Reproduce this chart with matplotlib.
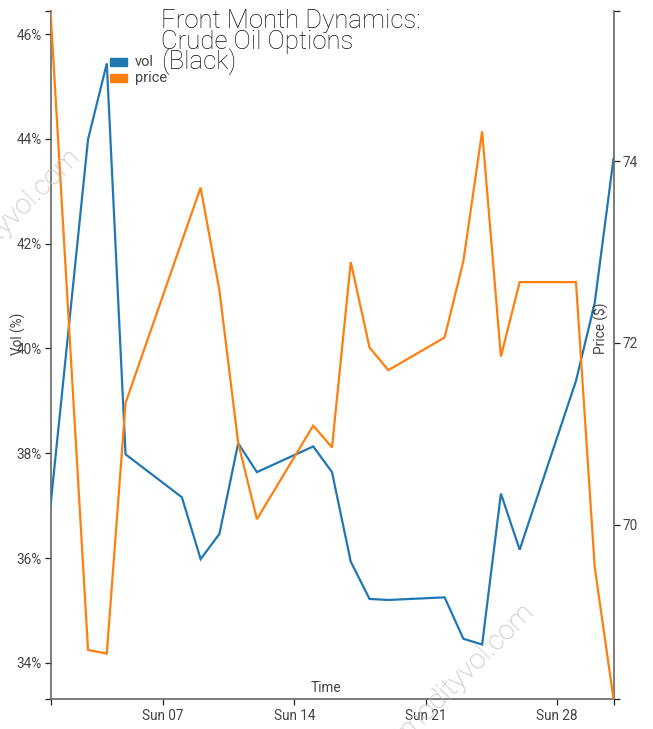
import matplotlib
matplotlib.use("Agg")
import matplotlib.pyplot as plt
import matplotlib.dates as mdates
from matplotlib.patches import Rectangle
import numpy as np
import pandas as pd

# ---- data ----
dates = ["2024-01-01", "2024-01-03", "2024-01-04", "2024-01-05", "2024-01-08",
         "2024-01-09", "2024-01-10", "2024-01-11", "2024-01-12", "2024-01-15",
         "2024-01-16", "2024-01-17", "2024-01-18", "2024-01-19", "2024-01-22",
         "2024-01-23", "2024-01-24", "2024-01-25", "2024-01-26", "2024-01-29",
         "2024-01-30", "2024-01-31"]
vol = [37.00, 43.99, 45.44, 37.98, 37.16, 35.98, 36.46, 38.19, 37.64, 38.13,
       37.64, 35.93, 35.22, 35.20, 35.25, 34.46, 34.35, 37.23, 36.16, 39.38,
       40.87, 43.62]
price = [75.66, 68.62, 68.58, 71.34, 73.12, 73.71, 72.58, 70.90, 70.06, 71.09,
         70.85, 72.89, 71.95, 71.70, 72.06, 72.90, 74.33, 71.85, 72.67, 72.67,
         69.53, 68.08]
vol_ticks = [34, 36, 38, 40, 42, 44, 46]
price_ticks = [70, 72, 74]
x_ticks = ["2024-01-07", "2024-01-14", "2024-01-21", "2024-01-28"]
vol_range = [33.31, 46.45]
title_lines = ["Front Month Dynamics:", "Crude Oil Options", "(Black)"]
series_names = ["vol", "price"]
watermark = "commodityvol.com"

BLUE = "#1f77b4"
ORANGE = "#ff7f0e"
AXC = "#666666"
TXC = "#444444"
FONT = "Roboto"

W, H = 653, 729
fig = plt.figure(figsize=(W / 100, H / 100), dpi=100)
plt.rcParams["font.family"] = [FONT, "DejaVu Sans"]

def px(x, y):
    return x / W, 1 - y / H

L, R, T, B = 50.5, 613.5, 10.5, 699
ax = fig.add_axes([L / W, 1 - B / H, (R - L) / W, (B - T) / H])
ax2 = ax.twinx()

d = pd.to_datetime(dates)
ax.plot(d, vol, color=BLUE, lw=1.6, solid_joinstyle="miter", zorder=3)
ax2.plot(d, price, color=ORANGE, lw=1.6, solid_joinstyle="miter", zorder=3)

ax.set_xlim(d.min(), d.max())
ax.set_ylim(*vol_range)
ax2.set_ylim(min(price), max(price))

for a in (ax, ax2):
    a.patch.set_visible(False)
    a.spines["top"].set_visible(False)
    for s in ("left", "right", "bottom"):
        a.spines[s].set_color(AXC)
        a.spines[s].set_linewidth(1.2)
ax.spines["right"].set_visible(False)
ax2.spines["left"].set_visible(False)
ax2.spines["bottom"].set_visible(False)

xt = pd.to_datetime(x_ticks)
ax.set_xticks(xt)
ax.set_xticklabels([t.strftime("%a %d") for t in xt])
ax.set_xticks([d.min(), d.max()], minor=True)
ax.set_yticks(vol_ticks)
ax.set_yticklabels([f"{v}%" for v in vol_ticks])
ax.set_yticks(vol_range, minor=True)
ax2.set_yticks(price_ticks)
ax2.set_yticklabels([str(p) for p in price_ticks])
ax2.set_yticks([min(price), max(price)], minor=True)

for a in (ax, ax2):
    a.tick_params(which="both", length=4.5, width=0.9, color="#222222",
                  labelcolor=TXC, labelsize=9.8, pad=2)
ax.tick_params(axis="x", pad=3)

# axis labels
fig.text(*px(18, 334), "Vol (%)", rotation=90, ha="center", va="center",
         fontsize=9.8, color=TXC)
fig.text(*px(600, 328), "Price ($)", rotation=90, ha="center", va="center",
         fontsize=9.8, color=TXC)
fig.text(*px(326, 688), "Time", ha="center", va="center",
         fontsize=9.8, color=TXC)

# title
for i, line in enumerate(title_lines):
    fig.text(*px(161, 28 + 20.5 * i), line, ha="left", va="baseline",
             fontsize=18.5, color="#111111", fontweight="light")

# legend
for i, (name, col) in enumerate(zip(series_names, [BLUE, ORANGE])):
    y0 = 58.5 + 16 * i
    fig.patches.append(Rectangle(px(110, y0 + 7), 17 / W, 7 / H,
                                 transform=fig.transFigure, color=col))
    fig.text(*px(135, y0 + 3.5), name, ha="left", va="center",
             fontsize=10.5, color=TXC)

# watermarks
for cx, cy in [(-6, 234), (448, 689)]:
    fig.text(*px(cx, cy), watermark, rotation=45, ha="center", va="center",
             rotation_mode="anchor", fontsize=20, color="#bdbdbd",
             fontweight="light", zorder=0)

fig.savefig("out.png", dpi=100)
